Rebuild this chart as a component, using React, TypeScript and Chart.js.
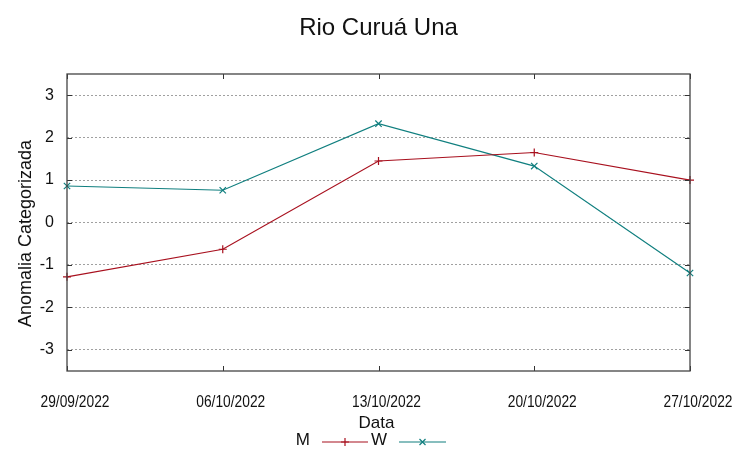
import React, { useEffect, useRef } from 'react';
import { Chart, registerables } from 'chart.js';
Chart.register(...registerables);

const chartTitle = 'Rio Curuá Una';
const dates = ['29/09/2022', '06/10/2022', '13/10/2022', '20/10/2022', '27/10/2022'];
const seriesM = [-1.28, -0.63, 1.45, 1.65, 1.0];
const seriesW = [0.86, 0.76, 2.33, 1.33, -1.19];
const yTicks = [-3, -2, -1, 0, 1, 2, 3];
const xTitle = 'Data';
const yTitle = 'Anomalia Categorizada';
const seriesNames = ['M', 'W'];

const RED = '#a8101e';
const TEAL = '#107f7f';
const FONT = '"Liberation Sans", Arial, sans-serif';

function drawMarker(ctx: CanvasRenderingContext2D, x: number, y: number, style: string, r: number) {
  ctx.beginPath();
  if (style === 'cross') {
    ctx.moveTo(x - r, y); ctx.lineTo(x + r, y);
    ctx.moveTo(x, y - r); ctx.lineTo(x, y + r);
  } else {
    const d = r * 0.75;
    ctx.moveTo(x - d, y - d); ctx.lineTo(x + d, y + d);
    ctx.moveTo(x - d, y + d); ctx.lineTo(x + d, y - d);
  }
  ctx.stroke();
}

const decor = {
  id: 'decor',
  afterDraw(chart: any) {
    const { ctx, chartArea: a, scales } = chart;
    const xs = scales.x, ys = scales.y;
    ctx.save();
    // tick marks
    ctx.strokeStyle = '#333';
    ctx.lineWidth = 1;
    ctx.beginPath();
    dates.forEach((_, i) => {
      const px = Math.round(xs.getPixelForTick(i)) + 0.5;
      ctx.moveTo(px, a.bottom); ctx.lineTo(px, a.bottom - 5);
      ctx.moveTo(px, a.top); ctx.lineTo(px, a.top + 5);
    });
    yTicks.forEach((v) => {
      const py = Math.round(ys.getPixelForValue(v)) + 0.5;
      ctx.moveTo(a.left, py); ctx.lineTo(a.left + 5, py);
      ctx.moveTo(a.right, py); ctx.lineTo(a.right - 5, py);
    });
    ctx.stroke();
    // border
    ctx.strokeStyle = '#444';
    ctx.lineWidth = 1.3;
    ctx.strokeRect(a.left, a.top, a.right - a.left, a.bottom - a.top);
    // x tick labels (condensed)
    ctx.fillStyle = '#111';
    ctx.font = `16px ${FONT}`;
    ctx.textAlign = 'center';
    ctx.textBaseline = 'middle';
    dates.forEach((d, i) => {
      ctx.save();
      ctx.translate(xs.getPixelForTick(i) + 8, a.bottom + 32);
      ctx.scale(0.86, 1);
      ctx.fillText(d, 0, 0);
      ctx.restore();
    });
    // title
    ctx.font = `24px ${FONT}`;
    ctx.fillStyle = '#111';
    ctx.fillText(chartTitle, (a.left + a.right) / 2, 28);
    // x title
    ctx.font = `17px ${FONT}`;
    ctx.fillText(xTitle, (a.left + a.right) / 2 - 2, a.bottom + 52);
    // y title
    ctx.save();
    ctx.translate(26, (a.top + a.bottom) / 2 + 11);
    ctx.rotate(-Math.PI / 2);
    ctx.font = `18px ${FONT}`;
    ctx.fillText(yTitle, 0, 0);
    ctx.restore();
    // legend
    const ly = a.bottom + 71;
    ctx.font = `17px ${FONT}`;
    ctx.textAlign = 'right';
    const entries = [
      { name: seriesNames[0], color: RED, style: 'cross', tx: 310, l0: 322, l1: 368 },
      { name: seriesNames[1], color: TEAL, style: 'crossRot', tx: 387, l0: 399, l1: 446 },
    ];
    entries.forEach((e) => {
      ctx.fillStyle = '#111';
      ctx.fillText(e.name, e.tx, ly - 2);
      ctx.strokeStyle = e.color;
      ctx.lineWidth = 1.2;
      ctx.beginPath();
      ctx.moveTo(e.l0, ly); ctx.lineTo(e.l1, ly);
      ctx.stroke();
      drawMarker(ctx, (e.l0 + e.l1) / 2, ly, e.style, 4);
    });
    ctx.restore();
  },
};

export default function App() {
  const ref = useRef<HTMLCanvasElement>(null);
  useEffect(() => {
    if (!ref.current) return;
    const chart = new Chart(ref.current, {
      type: 'line',
      data: {
        labels: dates,
        datasets: [
          {
            label: seriesNames[0], data: seriesM, borderColor: RED, backgroundColor: RED,
            borderWidth: 1.2, pointStyle: 'cross', pointRadius: 4, pointBorderWidth: 1.2,
            tension: 0, clip: false as any,
          },
          {
            label: seriesNames[1], data: seriesW, borderColor: TEAL, backgroundColor: TEAL,
            borderWidth: 1.2, pointStyle: 'crossRot', pointRadius: 4.5, pointBorderWidth: 1.2,
            tension: 0, clip: false as any,
          },
        ],
      },
      options: {
        animation: false,
        responsive: false,
        maintainAspectRatio: false,
        layout: { padding: { top: 74, right: 62, bottom: 0, left: 0 } },
        plugins: { legend: { display: false }, title: { display: false }, tooltip: { enabled: false } },
        scales: {
          x: {
            type: 'category',
            offset: false,
            grid: { display: false },
            border: { display: false },
            ticks: { display: false },
            afterFit: (s: any) => { s.height = 88; },
          },
          y: {
            min: -3.5,
            max: 3.5,
            afterBuildTicks: (s: any) => { s.ticks = yTicks.map((v) => ({ value: v })); },
            grid: { color: '#a0a0a0', drawTicks: false, lineWidth: 1 },
            border: { display: false, dash: [2, 2] },
            ticks: { padding: 13, color: '#111', font: { family: FONT, size: 16 } },
            afterFit: (s: any) => { s.width = 67; },
          },
        },
      },
      plugins: [decor],
    });
    return () => chart.destroy();
  }, []);
  return (
    <div style={{ position: 'fixed', left: 0, top: 0, width: 752, height: 459, background: '#fff' }}>
      <canvas ref={ref} width={752} height={459} style={{ display: 'block' }} />
    </div>
  );
}
